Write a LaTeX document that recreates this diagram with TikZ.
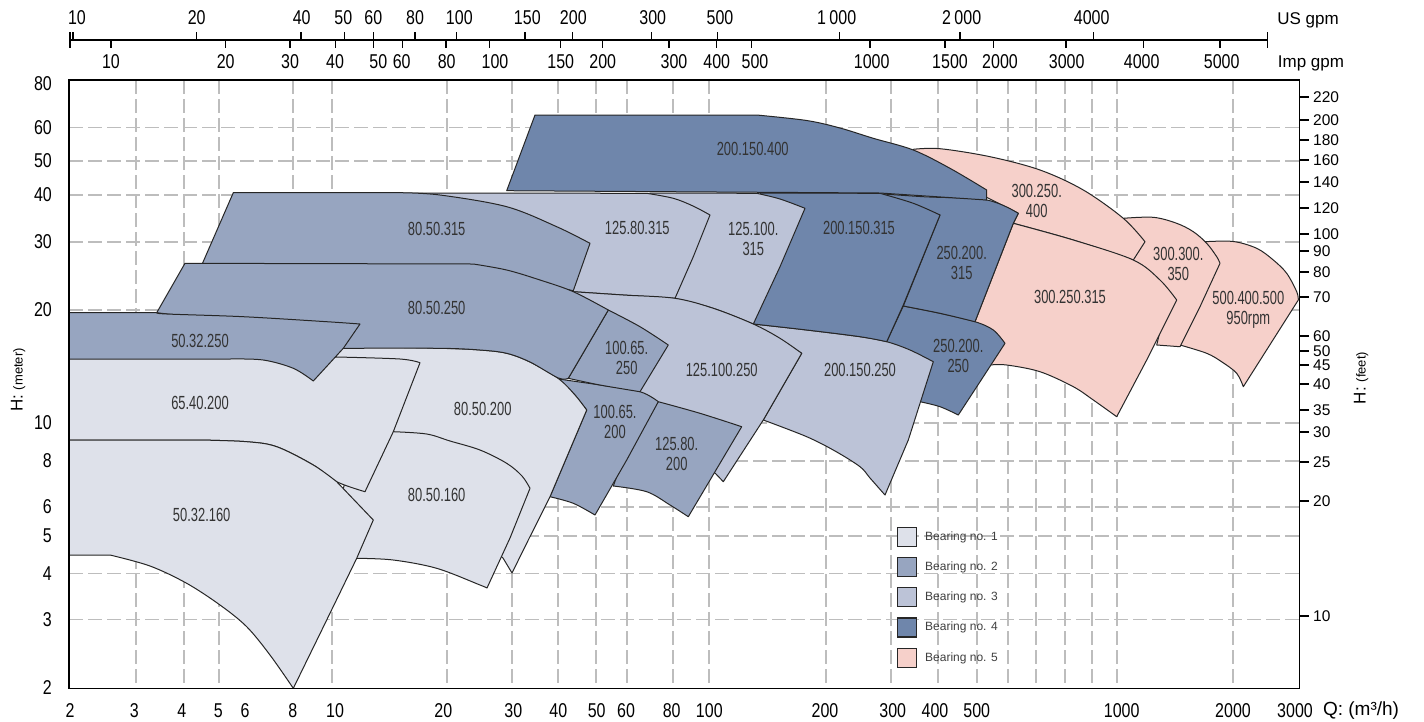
\documentclass[tikz,border=0pt]{standalone}
\usepackage{fontspec}
\setmainfont{Liberation Sans}
\newfontfamily\axf[FakeStretch=0.8]{Liberation Sans}
\newfontfamily\lbf[FakeStretch=0.68]{Liberation Sans}
\definecolor{bOne}{HTML}{DEE1EA}
\definecolor{bTwo}{HTML}{97A5C0}
\definecolor{bThree}{HTML}{BCC3D7}
\definecolor{bFour}{HTML}{6F86AB}
\definecolor{bFive}{HTML}{F6D0CA}
\definecolor{gridgray}{HTML}{BDBDBD}
\begin{document}
\begin{tikzpicture}[x=1pt,y=-1pt,
  gridln/.style={gridgray, line width=1.3pt, dash pattern=on 14pt off 5pt},
  pump/.style={draw=black!85, line width=1pt, line join=round},
  lbl/.style={font=\lbf\fontsize{19}{20}\selectfont, text=black!80, align=center, inner sep=0pt},
  axl/.style={font=\axf\fontsize{20}{20}\selectfont, inner sep=0pt},
  ftl/.style={font=\fontsize{15.5}{15.5}\selectfont, inner sep=0pt, anchor=west},
  axt/.style={line width=1.5pt},
  legbox/.style={draw=black!85, line width=1.5pt, minimum size=19pt, inner sep=0pt},
  legtxt/.style={font=\fontsize{12}{12}\selectfont, text=black!75, anchor=west, inner sep=0pt},
  smooth, tension=0.55]
\useasboundingbox (0,0) rectangle (1424,721);
\fill[white] (0,0) rectangle (1424,721);

% grid
\foreach \gx in {136,184,219,293,332,447,512,558,596,627,673,709,826,891,938,977,1008,1036,1065,1092,1117,1233}
  \draw[gridln] (\gx,80) -- (\gx,688.3);
\foreach \gy in {127.5,161,195,242,310,423,461,507,536,573.5,619.5}
  \draw[gridln] (69,\gy) -- (1299.5,\gy);

% pump areas (back to front)
\path[pump, fill=bFive] plot coordinates {(1205,241.7) (1233.3,241.5) (1256.7,248.3) (1273.3,260) (1286.7,273.3) (1296.7,291.7) (1298.3,300)} -- (1243.3,386.7) -- plot coordinates {(1243.3,386.7) (1236.7,373.3) (1222,362) (1206.7,353.3) (1180,345)} -- (1195,300) -- (1210,252) -- cycle;
\path[pump, fill=bFive] plot coordinates {(1123.3,218.3) (1153.3,217.3) (1176.7,223.3) (1193.3,231.7) (1206.7,243.3) (1216.7,256.7) (1220,263.3)} -- (1200,306.7) -- (1180,346.7) -- (1156.7,345) -- (1165,310) -- (1133,262) -- (1135,240) -- cycle;
\path[pump, fill=bFive] plot coordinates {(913.3,149.3) (940,148.7) (990,156.7) (1040,170) (1083.3,190) (1123.3,218.3) (1145,241.7)} -- (1133.3,260) -- plot coordinates {(1133.3,260) (1073.3,240) (1013.3,223.3)} -- (1018.3,213.3) -- (986,197) -- (945,172) -- (913.3,151) -- cycle;
\path[pump, fill=bFive] plot coordinates {(1013.3,223.3) (1073.3,240) (1133.3,260) (1160,280) (1176.7,300)} -- (1146.7,360) -- (1116.7,416.7) -- plot coordinates {(1116.7,416.7) (1093.3,400) (1073.3,386.7) (1040,371.7) (1006.7,365) (990,365)} -- (975,321.7) -- cycle;
\path[pump, fill=bFour] plot coordinates {(903.3,306) (940,313.3) (975,321.7) (993.3,330) (1005,343.3)} -- (983.3,376.7) -- (958.3,415) -- plot coordinates {(958.3,415) (940,406.7) (920,401.7)} -- (900,360) -- (886.7,341.7) -- cycle;
\path[pump, fill=bFour] plot coordinates {(870,193) (923.3,196.7) (986.7,200) (1018.3,213.3)} -- (1013.3,223.3) -- (975,321.7) -- plot coordinates {(975,321.7) (940,313.3) (903.3,306)} -- (940,215) -- cycle;
\path[pump, fill=bThree] plot coordinates {(753.3,324) (806.7,330) (860,336.7) (886.7,341.7) (910,350) (933.3,361.7)} -- (908.3,440) -- (885,495) -- plot coordinates {(885,495) (870,478) (860,466.7) (835,451) (806.7,436.7) (763.3,420)} -- (801.7,353.3) -- cycle;
\path[pump, fill=bFour] (760,193) -- (880,193.3) -- plot coordinates {(880,193.3) (913.3,203.3) (940,215)} -- (903.3,305) -- (886.7,341.7) -- plot coordinates {(886.7,341.7) (860,336.7) (806.7,330) (753.3,324)} -- (780,250) -- cycle;
\path[pump, fill=bFour] (506.7,190.7) -- (535,115) -- (756.7,115) -- plot coordinates {(756.7,115) (806.7,120.5) (840,128) (873.3,138.3) (913.3,150) (950,168.3) (986.7,190)} -- (986.7,200) -- (880,193) -- cycle;
\path[pump, fill=bThree] (650,193) -- (756.7,193.3) -- plot coordinates {(756.7,193.3) (780,199) (805,208.3)} -- (780,266.7) -- (753.3,324) -- plot coordinates {(753.3,324) (713.3,308.3) (675,298.3)} -- (660,250) -- cycle;
\path[pump, fill=bThree] (400,193) -- (646.7,193.3) -- plot coordinates {(646.7,193.3) (673.3,198.3) (693,206) (710,215)} -- (693.3,256.7) -- (675,298.3) -- plot coordinates {(675,298.3) (623.3,295) (573.3,291.7)} -- (560,260) -- cycle;
\path[pump, fill=bThree] plot coordinates {(573.3,291.7) (623.3,295) (675,298.3) (713.3,308.3) (753.3,324) (780,338.3) (801.7,353.3)} -- (763.3,420) -- (723.3,481.7) -- (716,474) -- (705,465) -- (650,430) -- (620,400) -- (600,370) -- (585,310) -- cycle;
\path[pump, fill=bTwo] plot coordinates {(658.3,401.7) (700,413.3) (741.7,426.7)} -- (688.3,516.7) -- plot coordinates {(688.3,516.7) (670,505) (646.7,491.7) (613.3,486)} -- (630,440) -- cycle;
\path[pump, fill=bTwo] plot coordinates {(558.3,379) (600,385) (640,391.7) (658.3,401.7)} -- (626.7,460) -- (595,515) -- plot coordinates {(595,515) (573.3,503.3) (550,496.7)} -- (586.7,410) -- (575,395) -- cycle;
\path[pump, fill=bOne] plot coordinates {(330,346) (440,348.3) (480,350) (506.7,353.3) (530,362) (558.3,378.5) (575,395) (586.7,410)} -- (550,496.7) -- (528.3,540) -- (512,573) -- (503,558) -- (480,540) -- (400,500) -- (380,430) -- cycle;
\path[pump, fill=bOne] (360,430) -- plot coordinates {(393.3,431.7) (426.7,434) (450,441) (480,450) (506.7,463.3) (522,476) (530,488.3)} -- (510,538) -- (487,588) -- plot coordinates {(487,588) (480,585) (436.7,568.3) (393.3,560) (356.7,558.3)} -- (340,500) -- cycle;
\path[pump, fill=bTwo] plot coordinates {(608.3,310) (640,326.7) (668.3,345)} -- (640,391.7) -- plot coordinates {(640,391.7) (600,385) (568.3,378.3)} -- cycle;
\path[pump, fill=bTwo] (202.5,263.3) -- (233.3,192.7) -- (400,192.7) -- plot coordinates {(400,192.7) (440,195) (506.7,206.7) (556.7,226.7) (590,243.3)} -- (573.3,290.7) -- (560,288) -- (473,268) -- (210,268) -- cycle;
\path[pump, fill=bTwo] (156.7,312.7) -- (185,263.3) -- (473.3,264) -- plot coordinates {(473.3,264) (506.7,270) (540,280) (573.3,291.7) (608.3,310)} -- (568.3,378.3) -- plot coordinates {(568.3,378.3) (558.3,378) (530,362) (506.7,353.3) (480,350) (440,348.3) (343.3,348.3)} -- (300,330) -- cycle;
\path[pump, fill=bOne] (69,358) -- (336.7,357) -- plot coordinates {(336.7,357) (400,359) (420,362.7)} -- (393.3,431.7) -- (365,491.7) -- plot coordinates {(365,491.7) (336.7,481.7) (313.3,465) (276.7,446.7) (246.7,441.7) (200,440)} -- (69,440) -- cycle;
\path[pump, fill=bTwo] (69,312.7) -- (156.7,312.7) -- plot coordinates {(156.7,312.7) (166.7,314) (243.3,316.7) (326.7,321.7) (360,324)} -- (343.3,348.3) -- (313.3,381) -- plot coordinates {(313.3,381) (293.3,368.3) (263.3,360) (230,359)} -- (69,359) -- cycle;
\path[pump, fill=bOne] (69,440) -- (200,440) -- plot coordinates {(200,440) (246.7,441.7) (276.7,446.7) (313.3,465) (336.7,481.7)} -- (373.3,520) -- (356.7,558.3) -- (326.7,620) -- (293.3,688.3) -- plot coordinates {(293.3,688.3) (270,655) (246.7,626.7) (220,605) (186.7,583.3) (150,566) (110,555)} -- (69,555) -- cycle;

% pump labels
\node[lbl] (p1) at (201.7,515) {50.32.160};
\node[lbl] (p2) at (200,402.7) {65.40.200};
\node[lbl] (p3) at (200,340.7) {50.32.250};
\node[lbl] (p4) at (436.7,307.7) {80.50.250};
\node[lbl] (p5) at (436.7,229) {80.50.315};
\node[lbl] (p6) at (436.7,495) {80.50.160};
\node[lbl] (p7) at (482.7,409.3) {80.50.200};
\node[lbl] (p8) at (626.7,358) {100.65.\\250};
\node[lbl] (p9) at (721.7,370) {125.100.250};
\node[lbl] (p10) at (615,422) {100.65.\\200};
\node[lbl] (p11) at (676.7,454) {125.80.\\200};
\node[lbl] (p12) at (637.3,228.3) {125.80.315};
\node[lbl] (p13) at (753.3,238.7) {125.100.\\315};
\node[lbl] (p14) at (752.7,149.3) {200.150.400};
\node[lbl] (p15) at (859,228.3) {200.150.315};
\node[lbl] (p16) at (860,370) {200.150.250};
\node[lbl] (p17) at (961.7,263) {250.200.\\315};
\node[lbl] (p18) at (958.3,356.3) {250.200.\\250};
\node[lbl] (p19) at (1036.7,200.8) {300.250.\\400};
\node[lbl] (p20) at (1070,297.3) {300.250.315};
\node[lbl] (p21) at (1178.3,263.7) {300.300.\\350};
\node[lbl] (p22) at (1248.3,310) {500.400.500\\950rpm};

% frame
\draw[line width=1.6pt] (69,80) rectangle (1299.5,688.3);

% left axis labels
\foreach \v/\yy in {80/84,60/127.5,50/161,40/195,30/242,20/310,10/423,8/461,6/507,5/536,4/573.5,3/619.5,2/688}
  \node[axl, anchor=east] (l\v) at (52,\yy) {\v};
\node[rotate=90, inner sep=0pt] (hm) at (18,380) {\fontsize{17}{17}\selectfont H: \fontsize{13}{13}\selectfont(meter)};

% right axis (feet)
\foreach \v/\yy in {220/97,200/120,180/140,160/160,140/182,120/208,100/234,90/251,80/272,70/297,60/336,50/351,45/365,40/384,35/410,30/432,25/462,20/501,10/616}{
  \draw[axt] (1299.5,\yy) -- (1309,\yy);
  \node[ftl] (r\v) at (1313,\yy) {\v};
}
\node[rotate=90, inner sep=0pt] (hf) at (1361,378) {\fontsize{17}{17}\selectfont H: \fontsize{13}{13}\selectfont(feet)};

% bottom axis labels
\foreach \v/\xx in {2/70,3/134.3,4/181.7,5/218.3,6/245,8/292.7,10/335,20/443.3,30/513.3,40/558.3,50/596.7,60/626,80/671.7,100/709.3,200/825,300/892.7,400/935,500/976.7,1000/1121.7,2000/1233,3000/1295}
  \node[axl] (b\v) at (\xx,711) {\v};
\node[font=\fontsize{19}{19}\selectfont, inner sep=0pt] (qlab) at (1361,711) {Q: (m³/h)};

% top axes
\coordinate (ta) at (70,40);
\coordinate (tb) at (1267.7,40);
\draw[axt] (ta) -- (tb);
\draw[axt] (70,32) -- (70,48);
\draw[axt] (1267.7,32) -- (1267.7,48);
\foreach \xx in {73,196.7,301,344.3,373.3,415,456.7,525,572.7,651.7,717.7,839.3,960,1093.3}
  \draw[axt] (\xx,32) -- (\xx,40);
\foreach \xx in {111,225.7,290,335.7,373.3,402.7,446,489.3,560.7,602.3,669,716.7,751.7,870,945,993.3,1066,1143.3,1220}
  \draw[axt] (\xx,40) -- (\xx,48);
\foreach \v/\xx [count=\i] in {10/77,20/196.7,40/301.7,50/343.3,60/373.3,80/415,100/459.3,150/527.3,200/573.3,300/652.7,500/720,1\,000/836.7,2\,000/961.7,4000/1091.7}
  \node[axl] (u\i) at (\xx,18) {\v};
\node[font=\fontsize{17}{17}\selectfont, inner sep=0pt] (usg) at (1308,20) {US gpm};
\foreach \v/\xx [count=\i] in {10/111,20/225.7,30/290,40/335,50/378.3,60/401.7,80/446.7,100/495,150/560.7,200/602.7,300/674,400/716.7,500/755,1000/871.7,1500/950,2000/1000,3000/1066.7,4000/1141.7,5000/1221.7}
  \node[axl] (m\i) at (\xx,62) {\v};
\node[font=\fontsize{17}{17}\selectfont, inner sep=0pt] (impg) at (1311,63) {Imp gpm};

% legend
\node[legbox, fill=bOne] (k1) at (907,537) {};
\node[legbox, fill=bTwo] (k2) at (907,567) {};
\node[legbox, fill=bThree] (k3) at (907,597) {};
\node[legbox, fill=bFour] (k4) at (907,627.5) {};
\node[legbox, fill=bFive] (k5) at (907,658) {};
\node[legtxt] (t1) at (925,537) {Bearing no. 1};
\node[legtxt] (t2) at (925,567) {Bearing no. 2};
\node[legtxt] (t3) at (925,597) {Bearing no. 3};
\node[legtxt] (t4) at (925,627.5) {Bearing no. 4};
\node[legtxt] (t5) at (925,658) {Bearing no. 5};
\end{tikzpicture}
\end{document}
